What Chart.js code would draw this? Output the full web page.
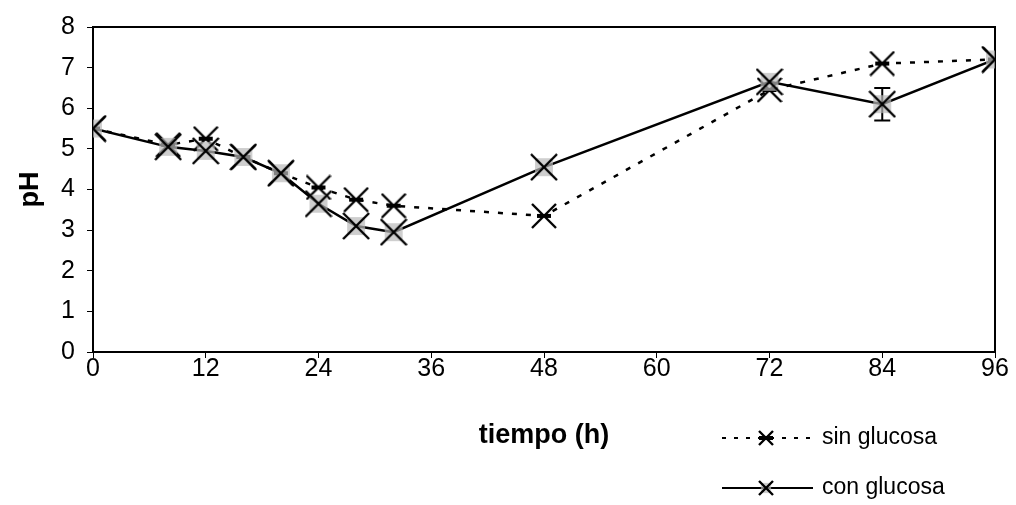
<!DOCTYPE html>
<html>
<head>
<meta charset="utf-8">
<script src="https://cdn.jsdelivr.net/npm/chart.js@4.4.1/dist/chart.umd.min.js"></script>
<style>
  html, body { margin: 0; padding: 0; background: #fff; }
  #wrap { width: 1016px; height: 505px; }
</style>
</head>
<body>
<div id="wrap"><canvas id="phChart"></canvas></div>
<script>
// datos
const horas = [0, 8, 12, 16, 20, 24, 28, 32, 48, 72, 84, 96];
const phSinGlucosa = [5.5, 5.1, 5.25, 4.8, 4.4, 4.05, 3.75, 3.6, 3.35, 6.45, 7.1, 7.2];
const phConGlucosa = [5.5, 5.05, 4.95, 4.8, 4.4, 3.65, 3.1, 2.95, 4.55, 6.65, 6.1, 7.2];
const errConGlucosa = [0, 0, 0, 0, 0, 0, 0, 0, 0, 0, 0.4, 0];
const xTicks = [0, 12, 24, 36, 48, 60, 72, 84, 96];
const yTicks = [0, 1, 2, 3, 4, 5, 6, 7, 8];
const nombres = ["sin glucosa", "con glucosa"];

const FONT = "'Liberation Sans', Arial, sans-serif";

function marcaCon(size) {
  const c = document.createElement("canvas");
  c.width = size; c.height = size;
  const g = c.getContext("2d");
  const m = size * 0.18;
  g.fillStyle = "rgba(185,185,185,0.7)";
  g.fillRect(m, m, size - 2 * m, size - 2 * m);
  g.strokeStyle = "#000";
  g.lineWidth = 2.4;
  g.beginPath();
  g.moveTo(1, 1); g.lineTo(size - 1, size - 1);
  g.moveTo(size - 1, 1); g.lineTo(1, size - 1);
  g.stroke();
  return c;
}

function marcaSin(size) {
  const c = document.createElement("canvas");
  c.width = size; c.height = size;
  const g = c.getContext("2d");
  g.strokeStyle = "#000";
  g.lineWidth = 2.4;
  g.beginPath();
  g.moveTo(1, 1); g.lineTo(size - 1, size - 1);
  g.moveTo(size - 1, 1); g.lineTo(1, size - 1);
  g.stroke();
  g.fillStyle = "#000";
  g.fillRect(size / 2 - 7, size / 2 - 2, 14, 4);
  return c;
}

const puntos = (xs, ys) => xs.map((x, i) => ({ x: x, y: ys[i] }));

// marco completo del area del grafico
const marco = {
  id: "marco",
  beforeDatasetsDraw(chart) {
    const { ctx, chartArea: a } = chart;
    ctx.save();
    ctx.strokeStyle = "#000";
    ctx.lineWidth = 2;
    ctx.strokeRect(a.left, a.top, a.right - a.left, a.bottom - a.top);
    ctx.restore();
  }
};

// barras de error
const barrasError = {
  id: "barrasError",
  beforeDatasetsDraw(chart) {
    const { ctx, scales: { x, y } } = chart;
    ctx.save();
    ctx.strokeStyle = "#000";
    ctx.lineWidth = 2;
    errConGlucosa.forEach((e, i) => {
      if (!e) return;
      const px = x.getPixelForValue(horas[i]);
      const y1 = y.getPixelForValue(phConGlucosa[i] + e);
      const y2 = y.getPixelForValue(phConGlucosa[i] - e);
      ctx.beginPath();
      ctx.moveTo(px, y1); ctx.lineTo(px, y2);
      ctx.moveTo(px - 8, y1); ctx.lineTo(px + 8, y1);
      ctx.moveTo(px - 8, y2); ctx.lineTo(px + 8, y2);
      ctx.stroke();
    });
    ctx.restore();
  }
};

// leyenda en dos filas abajo a la derecha
const leyenda = {
  id: "leyenda",
  afterDraw(chart) {
    const { ctx } = chart;
    const filas = [
      { y: 438, dash: [4, 8], img: marcaSin(16), texto: nombres[0] },
      { y: 488, dash: [], img: marcaCon(16), texto: nombres[1] }
    ];
    ctx.save();
    filas.forEach((f) => {
      ctx.strokeStyle = "#000";
      ctx.lineWidth = 2;
      ctx.setLineDash(f.dash);
      ctx.beginPath();
      ctx.moveTo(722, f.y); ctx.lineTo(813, f.y);
      ctx.stroke();
      ctx.setLineDash([]);
      ctx.drawImage(f.img, 766 - 8, f.y - 8);
      ctx.fillStyle = "#000";
      ctx.font = "23px " + FONT;
      ctx.textBaseline = "middle";
      ctx.textAlign = "left";
      ctx.fillText(f.texto, 822, f.y);
    });
    ctx.restore();
  }
};

new Chart(document.getElementById("phChart"), {
  type: "line",
  data: {
    datasets: [
      {
        label: nombres[0],
        data: puntos(horas, phSinGlucosa),
        borderColor: "#000",
        borderWidth: 2.5,
        borderDash: [5, 9],
        pointStyle: marcaSin(26),
        pointRadius: 13,
        order: 2
      },
      {
        label: nombres[1],
        data: puntos(horas, phConGlucosa),
        borderColor: "#000",
        borderWidth: 2.5,
        pointStyle: marcaCon(28),
        pointRadius: 14,
        order: 1
      }
    ]
  },
  options: {
    responsive: true,
    maintainAspectRatio: false,
    animation: false,
    layout: { padding: { top: 20, right: 21, left: 0, bottom: 0 } },
    plugins: { legend: { display: false }, tooltip: { enabled: false } },
    scales: {
      x: {
        type: "linear",
        min: 0,
        max: 96,
        afterBuildTicks: (s) => { s.ticks = xTicks.map((v) => ({ value: v })); },
        afterFit: (s) => { s.height = 153; },
        ticks: { color: "#000", font: { family: FONT, size: 25 }, padding: -4, maxRotation: 0 },
        grid: { drawOnChartArea: false, color: "#000", tickLength: 6 },
        border: { color: "#000", width: 2 },
        title: {
          display: true,
          text: "tiempo (h)",
          color: "#000",
          font: { family: FONT, size: 27, weight: "bold" },
          padding: { top: 0, bottom: 53 }
        }
      },
      y: {
        min: 0,
        max: 8,
        afterBuildTicks: (s) => { s.ticks = yTicks.map((v) => ({ value: v })); },
        afterFit: (s) => { s.width = 93; },
        ticks: { color: "#000", font: { family: FONT, size: 25 }, padding: 12 },
        grid: { drawOnChartArea: false, color: "#000", tickLength: 6 },
        border: { color: "#000", width: 2 },
        title: {
          display: true,
          text: "pH",
          color: "#000",
          font: { family: FONT, size: 27, weight: "bold" },
          padding: { top: 14, bottom: 0 }
        }
      }
    }
  },
  plugins: [marco, barrasError, leyenda]
});
</script>
</body>
</html>
